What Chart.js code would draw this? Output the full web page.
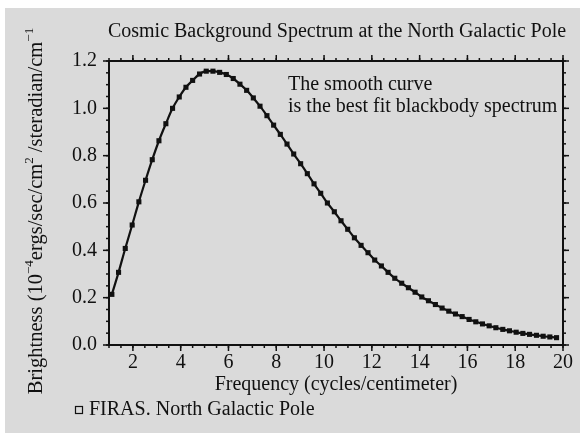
<!DOCTYPE html>
<html>
<head>
<meta charset="utf-8">
<script src="https://cdn.jsdelivr.net/npm/chart.js@4"></script>
<style>
  html, body { margin: 0; padding: 0; background: #ffffff; }
  #wrap { width: 580px; height: 433px; }
</style>
</head>
<body>
<div id="wrap"><canvas id="spectrum" width="580" height="433"></canvas></div>
<script>
// frequency (cycles/cm) of each FIRAS sample
const frequency = [
  1.12, 1.40, 1.68, 1.97, 2.25, 2.53, 2.81, 3.09, 3.38, 3.66,
  3.94, 4.22, 4.50, 4.79, 5.07, 5.35, 5.63, 5.91, 6.20, 6.48,
  6.76, 7.04, 7.32, 7.61, 7.89, 8.17, 8.45, 8.73, 9.02, 9.30,
  9.58, 9.86, 10.14, 10.43, 10.71, 10.99, 11.27, 11.55, 11.84, 12.12,
  12.40, 12.68, 12.96, 13.25, 13.53, 13.81, 14.09, 14.37, 14.66, 14.94,
  15.22, 15.50, 15.78, 16.07, 16.35, 16.63, 16.91, 17.19, 17.48, 17.76,
  18.04, 18.32, 18.60, 18.89, 19.17, 19.45, 19.73
];
// brightness, 10^-4 ergs/sec/cm^2/steradian/cm^-1
const brightness = [
  0.214, 0.307, 0.408, 0.507, 0.605, 0.696, 0.783, 0.863, 0.935, 1.000,
  1.048, 1.089, 1.118, 1.145, 1.157, 1.157, 1.152, 1.143, 1.126, 1.102,
  1.076, 1.044, 1.009, 0.969, 0.929, 0.890, 0.849, 0.807, 0.766, 0.724,
  0.681, 0.641, 0.600, 0.563, 0.525, 0.489, 0.453, 0.421, 0.390, 0.359,
  0.334, 0.307, 0.282, 0.261, 0.242, 0.223, 0.203, 0.187, 0.171, 0.156,
  0.143, 0.131, 0.120, 0.108, 0.098, 0.089, 0.081, 0.073, 0.066, 0.060,
  0.054, 0.049, 0.045, 0.041, 0.037, 0.034, 0.031
];
const xTicks = [2, 4, 6, 8, 10, 12, 14, 16, 18, 20];
const yTicks = [0.0, 0.2, 0.4, 0.6, 0.8, 1.0, 1.2];

const SERIF = '"Liberation Serif", "DejaVu Serif", serif';
const INK = '#111111';
const FS = 20;

const points = frequency.map((f, i) => ({ x: f, y: brightness[i] }));

// gray panel behind everything
const panel = {
  id: 'panel',
  beforeDraw(chart) {
    const c = chart.ctx;
    c.save();
    c.fillStyle = '#dadada';
    c.fillRect(5, 8, 575, 425);
    c.restore();
  }
};

// box round the plot with outward ticks on all four sides
function drawTicks(c, scale, values, len, side, area) {
  values.forEach(v => {
    const p = scale.getPixelForValue(v);
    c.beginPath();
    if (side === 'bottom') { c.moveTo(p, area.bottom); c.lineTo(p, area.bottom + len); }
    if (side === 'top') { c.moveTo(p, area.top); c.lineTo(p, area.top - len); }
    if (side === 'left') { c.moveTo(area.left, p); c.lineTo(area.left - len, p); }
    if (side === 'right') { c.moveTo(area.right, p); c.lineTo(area.right + len, p); }
    c.stroke();
  });
}

const frame = {
  id: 'frame',
  afterDraw(chart) {
    const c = chart.ctx;
    const a = chart.chartArea;
    const xs = chart.scales.x, ys = chart.scales.y;
    const xMinor = [], yMinor = [];
    for (let k = 2; k <= 40; k++) xMinor.push(k / 2);
    for (let k = 0; k <= 24; k++) yMinor.push(k / 20);

    c.save();
    c.strokeStyle = INK;
    c.lineWidth = 1.5;
    ['top', 'bottom'].forEach(s => {
      drawTicks(c, xs, xMinor, 3, s, a);
      drawTicks(c, xs, xTicks, 6, s, a);
    });
    ['left', 'right'].forEach(s => {
      drawTicks(c, ys, yMinor, 3, s, a);
      drawTicks(c, ys, yTicks, 6, s, a);
    });
    c.lineWidth = 2;
    c.strokeRect(a.left, a.top, a.right - a.left, a.bottom - a.top);

    c.fillStyle = INK;
    c.textBaseline = 'middle';

    // title
    c.font = FS + 'px ' + SERIF;
    c.textAlign = 'center';
    c.fillText('Cosmic Background Spectrum at the North Galactic Pole', 337, 32);

    // note inside the plot
    c.textAlign = 'left';
    c.fillText('The smooth curve', 288, 85);
    c.fillText('is the best fit blackbody spectrum', 288, 107);

    // x axis title
    c.textAlign = 'center';
    c.fillText('Frequency (cycles/centimeter)', 336, 385);

    // legend
    c.textAlign = 'left';
    c.fillText('FIRAS. North Galactic Pole', 89, 410);
    c.lineWidth = 1.2;
    c.strokeRect(75.5, 406.5, 7, 7);

    // y axis title with superscripts
    const parts = [
      ['Brightness (10', false], ['\u22124', true], ['ergs/sec/cm', false],
      ['2', true], [' /steradian/cm', false], ['\u22121', true]
    ];
    const size = 20.5, sup = 13;
    let total = 0;
    parts.forEach(([t, s]) => {
      c.font = (s ? sup : size) + 'px ' + SERIF;
      total += c.measureText(t).width;
    });
    c.translate(37, 211);
    c.rotate(-Math.PI / 2);
    let x = -total / 2;
    parts.forEach(([t, s]) => {
      c.font = (s ? sup : size) + 'px ' + SERIF;
      c.fillText(t, x, s ? -7 : 0);
      x += c.measureText(t).width;
    });
    c.restore();
  }
};

new Chart(document.getElementById('spectrum'), {
  type: 'scatter',
  data: {
    datasets: [
      {
        label: 'Best fit blackbody',
        data: points,
        showLine: true,
        borderColor: INK,
        borderWidth: 2.2,
        pointRadius: 0,
        cubicInterpolationMode: 'monotone'
      },
      {
        label: 'FIRAS. North Galactic Pole',
        data: points,
        showLine: false,
        pointStyle: 'rect',
        pointRadius: 3.6,
        backgroundColor: INK,
        borderColor: INK,
        borderWidth: 0
      }
    ]
  },
  options: {
    responsive: false,
    animation: false,
    devicePixelRatio: 1,
    layout: { padding: { top: 61, right: 17, left: 0, bottom: 0 } },
    plugins: {
      legend: { display: false },
      title: { display: false },
      tooltip: { enabled: false }
    },
    scales: {
      x: {
        type: 'linear',
        min: 1,
        max: 20,
        grid: { display: false, tickLength: 0 },
        border: { display: false },
        afterBuildTicks: s => { s.ticks = xTicks.map(v => ({ value: v })); },
        afterFit: s => { s.height = 88; },
        ticks: {
          color: INK,
          padding: 6,
          maxRotation: 0,
          font: { family: SERIF, size: FS },
          callback: v => String(v)
        }
      },
      y: {
        type: 'linear',
        min: 0,
        max: 1.2,
        grid: { display: false, tickLength: 0 },
        border: { display: false },
        afterBuildTicks: s => { s.ticks = yTicks.map(v => ({ value: v })); },
        afterFit: s => { s.width = 109; },
        ticks: {
          color: INK,
          padding: 12,
          font: { family: SERIF, size: FS },
          callback: v => Number(v).toFixed(1)
        }
      }
    }
  },
  plugins: [panel, frame]
});
</script>
</body>
</html>
